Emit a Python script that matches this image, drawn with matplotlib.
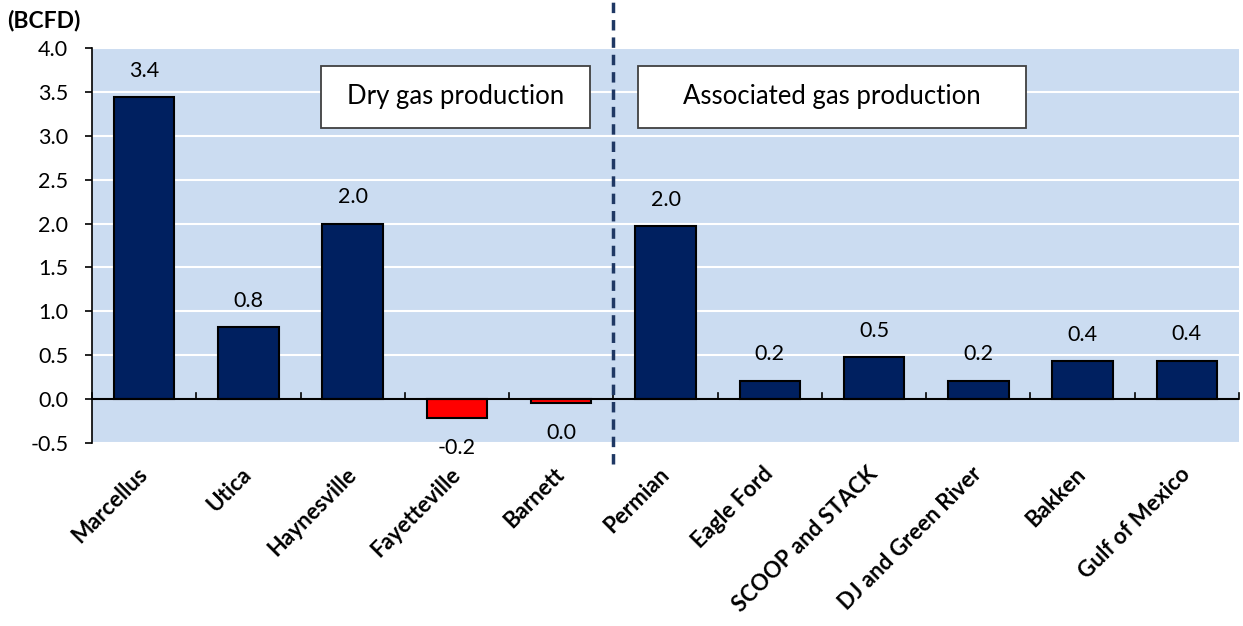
import matplotlib.pyplot as plt
from matplotlib.patches import Rectangle
from matplotlib.ticker import FixedLocator

plt.rcParams['font.family'] = ['Lato', 'DejaVu Sans']

regions = ["Marcellus", "Utica", "Haynesville", "Fayetteville", "Barnett",
           "Permian", "Eagle Ford", "SCOOP and STACK", "DJ and Green River",
           "Bakken", "Gulf of Mexico"]
change_bcfd = [3.44, 0.82, 2.0, -0.21, -0.04, 1.97, 0.21, 0.48, 0.21, 0.43, 0.44]
yticks = [-0.5, 0.0, 0.5, 1.0, 1.5, 2.0, 2.5, 3.0, 3.5, 4.0]

navy = "#002060"
red = "#FF0000"
bg = "#CBDCF1"

fig = plt.figure(figsize=(12.43, 6.26), dpi=100)
ax = fig.add_axes([0.074, 0.2923, 0.9228, 0.631])
ax.set_facecolor(bg)

x = list(range(len(regions)))
colors = [navy if v >= 0 else red for v in change_bcfd]
ax.bar(x, change_bcfd, width=0.58, color=colors, edgecolor="black",
       linewidth=1.5, zorder=3)

for xi, v in zip(x, change_bcfd):
    lab = f"{v:.1f}"
    if lab == "-0.0":
        lab = "0.0"
    off = 19 if v >= 0 else -22
    ax.annotate(lab, (xi, v), xytext=(0, off), textcoords="offset points",
                ha="center", va="center", fontsize=15.5, color="black", zorder=5)

ax.set_xlim(-0.5, 10.5)
ax.set_ylim(-0.5, 4.0)
ax.set_yticks(yticks)
ax.set_yticklabels([f"{t:.1f}" for t in yticks], fontsize=15.5)
ax.yaxis.grid(True, color="white", linewidth=1.5, zorder=1)
ax.set_axisbelow(True)

for s in ["top", "right", "bottom"]:
    ax.spines[s].set_visible(False)
ax.spines["left"].set_linewidth(1.2)
ax.tick_params(axis="y", direction="out", length=5, width=1.2, pad=12)

# category labels hang diagonally below the plot
ax.set_xticks(x)
ax.set_xticklabels(regions, rotation=45, ha="right", va="center",
                   rotation_mode="anchor", fontsize=16, fontweight="bold")
ax.tick_params(axis="x", which="major", length=0, pad=20)
ax.xaxis.set_minor_locator(FixedLocator([i + 0.5 for i in range(-1, 11)]))
ax.tick_params(axis="x", which="minor", length=0)

# zero line with short category-boundary ticks
ax.axhline(0, color="black", linewidth=1.5, zorder=4)
for b in range(0, 12):
    ax.plot([b - 0.5, b - 0.5], [0, 0.07], color="black", linewidth=1.2,
            zorder=4, clip_on=False)

# divider between dry and associated gas regions
ax.plot([4.5, 4.5], [-0.74, 4.56], color="#1F3864", linewidth=2.5,
        linestyle=(0, (3, 2)), clip_on=False, zorder=6)

# group captions in framed boxes
for (x0, x1), caption in [((1.70, 4.28), "Dry gas production"),
                          ((4.735, 8.455), "Associated gas production")]:
    ax.add_patch(Rectangle((x0, 3.087), x1 - x0, 3.79 - 3.087,
                           facecolor="white", edgecolor="#404040",
                           linewidth=1.3, zorder=7))
    ax.text((x0 + x1) / 2, 3.45, caption, ha="center", va="center",
            fontsize=18.5, zorder=8)

fig.text(0.006, 0.967, "(BCFD)", fontsize=16.5, fontweight="bold",
         ha="left", va="center")

fig.savefig("out.png", dpi=100)
